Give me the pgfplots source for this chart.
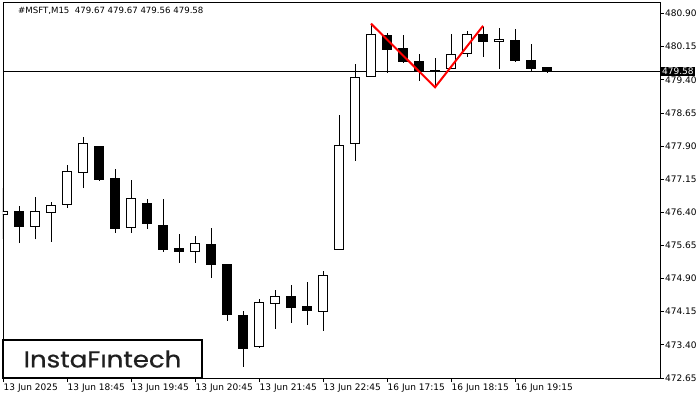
\documentclass[border=0pt]{standalone}
\usepackage{pgfplots}
\pgfplotsset{compat=1.18}
\usepackage{pgfplotstable}
\usepackage{fontspec}
\setmainfont{DejaVu Sans}
\newfontfamily\logofont[FakeBold=0.6]{Poppins}

\pgfplotstableread{
i o h l c
0 476.35 476.94 475.79 476.43
1 476.43 476.54 475.70 476.07
2 476.08 476.74 475.79 476.43
3 476.40 476.63 475.73 476.56
4 476.58 477.47 476.50 477.33
5 477.30 478.11 476.95 477.96
6 477.88 477.90 477.11 477.14
7 477.17 477.38 475.94 476.03
8 476.06 477.14 475.94 476.71
9 476.60 476.71 476.03 476.14
10 476.11 476.71 475.51 475.57
11 475.58 475.91 475.26 475.51
12 475.52 475.86 475.26 475.70
13 475.68 476.04 474.92 475.23
14 475.23 475.24 473.95 474.08
15 474.07 474.16 472.90 473.31
16 473.36 474.43 473.33 474.36
17 474.34 474.64 473.76 474.50
18 474.50 474.75 473.90 474.24
19 474.28 474.82 473.85 474.17
20 474.15 475.07 473.72 474.98
21 475.56 478.60 475.56 477.91
22 477.96 479.75 477.57 479.45
23 479.47 480.67 479.47 480.42
24 480.41 480.45 479.56 480.08
25 480.11 480.41 479.78 479.82
26 479.82 479.98 479.38 479.59
27 479.62 479.89 479.23 479.59
28 479.65 480.43 479.65 479.97
29 479.99 480.50 479.92 480.42
30 480.43 480.60 479.92 480.26
31 480.27 480.58 479.65 480.31
32 480.30 480.56 479.81 479.83
33 479.84 480.21 479.59 479.65
34 479.67 479.67 479.56 479.58
}\candles

\begin{document}
\begin{tikzpicture}
\fill[white] (0pt,0pt) rectangle (700pt,400pt);
\useasboundingbox (0pt,0pt) rectangle (700pt,400pt);
\begin{axis}[
  at={(3pt,22pt)}, anchor=south west,
  scale only axis, width=657pt, height=376pt,
  xmin=0, xmax=41.06, ymin=472.65, ymax=481.16,
  axis line style={black, line width=0.8pt},
  tick align=outside,
  xtick pos=bottom, ytick pos=right, yticklabel pos=right,
  major tick length=4pt,
  tick style={black, line width=0.8pt},
  xtick={0,4,8,12,16,20,24,28,32},
  xticklabels={13 Jun 2025, 13 Jun 18:45, 13 Jun 19:45, 13 Jun 20:45, 13 Jun 21:45, 13 Jun 22:45, 16 Jun 17:15, 16 Jun 18:15, 16 Jun 19:15},
  ytick={472.65,473.40,474.15,474.90,475.65,476.40,477.15,477.90,478.65,479.40,480.15,480.90},
  yticklabels={472.65,473.40,474.15,474.90,475.65,476.40,477.15,477.90,478.65,479.40,480.15,480.90},
  xticklabel style={font=\fontsize{9}{10}\selectfont, anchor=north west, inner sep=0pt, xshift=0.5pt, yshift=-2pt},
  yticklabel style={font=\fontsize{9}{10}\selectfont, anchor=west, inner sep=0pt, xshift=1pt},
  clip=true,
]
\addplot[black, line width=0.8pt] coordinates {(0,479.58) (41.06,479.58)};
\pgfplotsforeachungrouped \r in {0,...,34}{%
  \pgfplotstablegetelem{\r}{i}\of\candles\let\ci\pgfplotsretval
  \pgfplotstablegetelem{\r}{o}\of\candles\let\co\pgfplotsretval
  \pgfplotstablegetelem{\r}{h}\of\candles\let\ch\pgfplotsretval
  \pgfplotstablegetelem{\r}{l}\of\candles\let\cl\pgfplotsretval
  \pgfplotstablegetelem{\r}{c}\of\candles\let\cc\pgfplotsretval
  \pgfmathsetmacro\xa{\ci-0.30}%
  \pgfmathsetmacro\xb{\ci+0.30}%
  \pgfmathtruncatemacro\isup{\cc>\co ? 1 : 0}%
  \ifnum\isup=1 \def\fc{white}\else\def\fc{black}\fi
  \edef\temp{\noexpand\addplot[black, line width=1pt] coordinates {(\ci,\cl) (\ci,\ch)};
    \noexpand\addplot[draw=black, fill=\fc, line width=0.9pt] coordinates {(\xa,\co) (\xb,\co) (\xb,\cc) (\xa,\cc)} --cycle;}%
  \temp
}
\addplot[red, line width=2pt] coordinates {(23,480.67) (27,479.23) (30,480.62)};
\end{axis}
\node[anchor=base west, inner sep=0pt, font=\fontsize{8.6}{10}\selectfont] at (18pt,386pt) {\#MSFT,M15\ \ 479.67 479.67 479.56 479.58};
\node[anchor=west, fill=black, text=white, inner sep=1pt, minimum height=9.5pt, font=\fontsize{9}{10}\selectfont] at (661pt,328.6pt) {479.58};
\draw[black, line width=2pt, fill=white] (3pt,22pt) rectangle (202pt,60pt);
\node[text=black!88, inner sep=0pt] at (102.5pt,41pt) {\scalebox{1.13}[1]{\logofont\fontsize{23}{24}\selectfont InstaF\char"0131 ntech}};
\end{tikzpicture}
\end{document}
